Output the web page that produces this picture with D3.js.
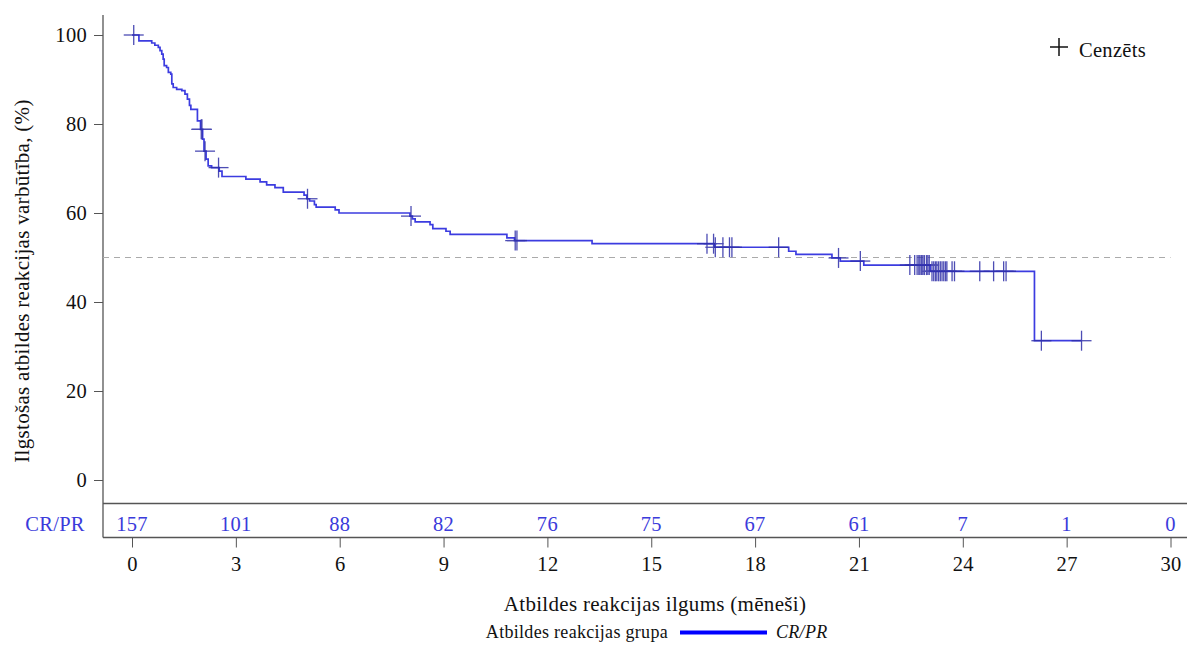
<!DOCTYPE html>
<html>
<head>
<meta charset="utf-8">
<script src="https://cdn.jsdelivr.net/npm/d3@7"></script>
<style>
  body { margin: 0; background: #fff; }
  svg text { font-family: "Liberation Serif", "Times New Roman", serif; letter-spacing: 0.3px; }
</style>
</head>
<body>
<script>
var width = 1187, height = 646;

// Kaplan-Meier steps: time (months) and survival (%) after each event
var stepTimes = [0, 0.2, 0.57, 0.66, 0.76, 0.81, 0.86, 0.9, 0.93, 1.0, 1.05, 1.12, 1.15, 1.19, 1.29, 1.44, 1.53, 1.6, 1.66, 1.7, 1.89, 1.98,
  2.04, 2.08, 2.14, 2.2, 2.3, 2.52, 2.6, 3.29, 3.7, 3.89, 4.13, 4.37, 4.97, 5.05, 5.13, 5.27, 5.32, 5.87, 5.98,
  8.03, 8.1, 8.18, 8.61, 8.69, 9.07, 9.19, 10.83, 11.05, 13.29, 16.83, 18.97, 19.18, 20.22, 20.46, 21.14, 23.06, 26.07];
var stepSurv = [100, 98.7, 98.2, 97.7, 97.2, 96.5, 95.7, 94.6, 93.1, 92.7, 91.6, 91.2, 89.0, 88.2, 87.8, 87.5, 86.7, 85.6, 84.2, 83.3, 80.7, 78.8,
  76.6, 73.9, 72.1, 70.6, 70.2, 69.4, 68.2, 67.6, 67.0, 66.3, 65.7, 64.7, 64.0, 63.2, 62.7, 61.9, 61.3, 60.7, 60.0,
  59.3, 58.7, 58.0, 57.4, 56.5, 55.9, 55.2, 54.4, 53.8, 53.1, 52.3, 51.4, 50.7, 49.9, 49.2, 48.3, 46.9, 31.3];

// censored observations (months)
var censorTimes = [0.05, 2.0, 2.02, 2.11, 2.5, 5.07, 8.06, 11.07, 11.12, 16.61, 16.8, 16.85, 17.07, 17.26, 17.33, 18.68, 20.41, 21.04,
  22.47, 22.61, 22.68, 22.73, 22.76, 22.8, 22.82, 22.85, 22.89, 22.95, 22.99, 23.03,
  23.11, 23.16, 23.21, 23.25, 23.3, 23.35, 23.4, 23.45, 23.5, 23.54, 23.69, 23.76, 24.49, 24.89, 25.18, 25.25, 26.27, 27.43];

var riskTimes = [0, 3, 6, 9, 12, 15, 18, 21, 24, 27, 30];
var riskCounts = [157, 101, 88, 82, 76, 75, 67, 61, 7, 1, 0];
var yTicks = [0, 20, 40, 60, 80, 100];

var svg = d3.select("body").append("svg").attr("width", width).attr("height", height);

var x = d3.scaleLinear().domain([0, 30]).range([132, 1170.5]);
var y = d3.scaleLinear().domain([0, 100]).range([480, 35]);

function survAt(t) {
  var s = 100;
  for (var i = 0; i < stepTimes.length; i++) if (stepTimes[i] <= t) s = stepSurv[i];
  return s;
}

// frame lines
svg.append("line").attr("x1", 103).attr("x2", 103).attr("y1", 15).attr("y2", 537.5)
  .attr("stroke", "#555").attr("stroke-width", 1.3);
svg.append("line").attr("x1", 103).attr("x2", width).attr("y1", 503.5).attr("y2", 503.5)
  .attr("stroke", "#555").attr("stroke-width", 1.3);
svg.append("line").attr("x1", 103).attr("x2", width).attr("y1", 537.5).attr("y2", 537.5)
  .attr("stroke", "#555").attr("stroke-width", 1.3);

// y axis
var yAxis = svg.append("g").attr("transform", "translate(103,0)")
  .call(d3.axisLeft(y).tickValues(yTicks).tickSize(9).tickPadding(7));
yAxis.select(".domain").remove();
yAxis.selectAll(".tick line").attr("stroke", "#555");
yAxis.selectAll(".tick text").attr("font-size", 20.5).attr("fill", "#111");

// x axis
var xAxis = svg.append("g").attr("transform", "translate(0,537.5)")
  .call(d3.axisBottom(x).tickValues(riskTimes).tickSize(10).tickPadding(9));
xAxis.select(".domain").remove();
xAxis.selectAll(".tick line").attr("stroke", "#555");
xAxis.selectAll(".tick text").attr("font-size", 20.5).attr("fill", "#111");

// 50% reference line
svg.append("line").attr("x1", 103).attr("x2", x(30)).attr("y1", y(50)).attr("y2", y(50))
  .attr("stroke", "#aaa").attr("stroke-width", 1.2).attr("stroke-dasharray", "6,5");

// KM curve
var pts = stepTimes.map(function (t, i) { return [t, stepSurv[i]]; });
pts.push([d3.max(censorTimes), stepSurv[stepSurv.length - 1]]);
var line = d3.line().x(function (d) { return x(d[0]); }).y(function (d) { return y(d[1]); })
  .curve(d3.curveStepAfter);
svg.append("path").datum(pts).attr("d", line)
  .attr("fill", "none").attr("stroke", "#3c3ce0").attr("stroke-width", 1.7);

// censor marks
var cg = svg.append("g").attr("stroke", "#2e2ea8").attr("stroke-width", 1.3).attr("opacity", 0.85);
censorTimes.forEach(function (t) {
  var cx = x(t), cy = y(survAt(t));
  cg.append("line").attr("x1", cx - 10).attr("x2", cx + 10).attr("y1", cy).attr("y2", cy);
  cg.append("line").attr("x1", cx).attr("x2", cx).attr("y1", cy - 10).attr("y2", cy + 10);
});

// risk table
svg.append("text").attr("x", 55).attr("y", 531).attr("text-anchor", "middle")
  .attr("font-size", 20.5).attr("fill", "#3b3bdb").text("CR/PR");
svg.selectAll(".risk").data(riskCounts).enter().append("text")
  .attr("x", function (d, i) { return x(riskTimes[i]); })
  .attr("y", 531).attr("text-anchor", "middle")
  .attr("font-size", 20.5).attr("fill", "#3b3bdb")
  .text(function (d) { return d; });

// axis titles
svg.append("text").attr("x", 655).attr("y", 611).attr("text-anchor", "middle")
  .attr("font-size", 21).attr("fill", "#111").text("Atbildes reakcijas ilgums (mēneši)");
svg.append("text").attr("transform", "translate(29,281) rotate(-90)").attr("text-anchor", "middle")
  .attr("font-size", 21).attr("fill", "#111").text("Ilgstošas atbildes reakcijas varbūtība, (%)");

// bottom legend
svg.append("text").attr("x", 668).attr("y", 638).attr("text-anchor", "end")
  .attr("font-size", 18).attr("fill", "#111").text("Atbildes reakcijas grupa");
svg.append("line").attr("x1", 680).attr("x2", 767).attr("y1", 632.5).attr("y2", 632.5)
  .attr("stroke", "#0000ff").attr("stroke-width", 4);
svg.append("text").attr("x", 776).attr("y", 638)
  .attr("font-size", 18).attr("font-style", "italic").attr("fill", "#111").text("CR/PR");

// censor legend
svg.append("line").attr("x1", 1050).attr("x2", 1068).attr("y1", 47).attr("y2", 47)
  .attr("stroke", "#111").attr("stroke-width", 1.5);
svg.append("line").attr("x1", 1059).attr("x2", 1059).attr("y1", 38).attr("y2", 56)
  .attr("stroke", "#111").attr("stroke-width", 1.5);
svg.append("text").attr("x", 1079).attr("y", 56.5)
  .attr("font-size", 20.5).attr("fill", "#111").text("Cenzēts");
</script>
</body>
</html>
